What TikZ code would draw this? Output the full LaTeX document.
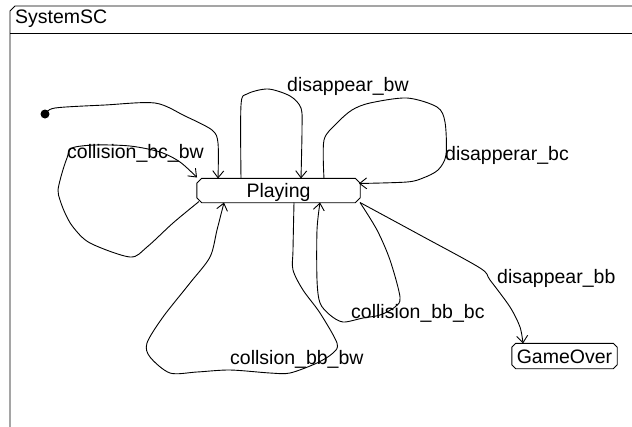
\documentclass[tikz,border=0pt]{standalone}
\usepackage{fontspec}
\setmainfont{Liberation Sans}
\usetikzlibrary{arrows.meta}
\begin{document}
\begin{tikzpicture}[x=1pt,y=-1pt,
  every node/.style={font=\fontsize{19.5}{23}\selectfont},
  state/.style={rectangle, inner sep=0pt, text height=14pt, text depth=0pt},
  trans/.style={line width=0.9pt, -{Straight Barb[length=7pt,width=11pt]}},
  lbl/.style={anchor=base west, inner sep=0pt},
  frm/.style={line width=0.9pt}]
\useasboundingbox (0,0) rectangle (632,426);
\clip (0,0) rectangle (632,426);
% frame
\draw[frm] (10,428) -- (10,11) -- (15,6) -- (645,6);
\draw[frm] (10,33) -- (645,33);
\node[lbl] (title) at (15,23) {SystemSC};
% states
\node[state, minimum width=163pt, minimum height=24pt] (play) at (278.5,190.5) {Playing};
\node[state, minimum width=105pt, minimum height=25pt] (go) at (564.5,356) {GameOver};
\draw[frm] ([xshift=5pt]play.north west) -- ([xshift=-5pt]play.north east)
  -- ([yshift=-5pt]play.north east) -- ([yshift=5pt]play.south east)
  -- ([xshift=-5pt]play.south east) -- ([xshift=5pt]play.south west)
  -- ([yshift=5pt]play.south west) -- ([yshift=-5pt]play.north west) -- cycle;
\draw[frm] ([xshift=4pt]go.north west) -- ([xshift=-4pt]go.north east)
  -- ([yshift=-4pt]go.north east) -- ([yshift=4pt]go.south east)
  -- ([xshift=-4pt]go.south east) -- ([xshift=4pt]go.south west)
  -- ([yshift=4pt]go.south west) -- ([yshift=-4pt]go.north west) -- cycle;
\node[circle, fill, inner sep=0pt, minimum size=9pt] (init) at (45,114) {};
% transitions
\draw[trans] plot[smooth, tension=0.5] coordinates {(init.center) (55,108) (105,105) (155,103) (185,116) (212,130) (218,143) ([shift={(-60.5,-12)}]play.center)};
\draw[trans] plot[smooth, tension=0.5] coordinates {([shift={(-37.5,-12)}]play.center) (241,105) (247,94) (268,89) (290,96) (301,108) (302,130) ([shift={(22.5,-12)}]play.center)};
\draw[trans] plot[smooth, tension=0.5] coordinates {([shift={(45.5,-12)}]play.center) (324,140) (337,123) (352,110) (370,103) (407,98) (437,107) (445,122) (446,155) (438,170) (423,178) (407,182) ([shift={(80.5,-7)}]play.center)};
\draw[trans] plot[smooth, tension=0.5] coordinates {([shift={(-79.5,11)}]play.center) (173,223) (147,247) (130,257) (90,243) (73,227) (65,213) (60,200) (58,190) (62,173) (67,158) (72,148) (95,145) (130,146) (160,152) (180,162) ([shift={(-81.5,-13)}]play.center)};
\draw[trans] plot[smooth, tension=0.5] coordinates {([shift={(15.5,12)}]play.center) (293,250) (293,270) (303,290) (320,313) (337,343) (333,353) (317,363) (290,373) (270,373) (230,370) (197,372) (170,373) (150,357) (147,343) (163,317) (190,283) (210,257) (217,230) ([shift={(-54.5,12)}]play.center)};
\draw[trans] plot[smooth, tension=0.5] coordinates {([shift={(81.5,12)}]play.center) (377,230) (390,260) (400,297) (395,307) (380,315) (363,318) (343,322) (330,315) (320,303) (317,280) (317,230) ([shift={(41.5,12)}]play.center)};
\draw[trans] plot[smooth, tension=0.5] coordinates {([shift={(81.5,12)}]play.center) (420,235) (480,268) (490,280) (510,307) (520,327) ([shift={(-41.5,-12.5)}]go.center)};
% labels
\node[lbl] (lbw) at (287,91) {disappear\_bw};
\node[lbl] (lbc) at (445,160) {disapperar\_bc};
\node[lbl] (lbcbw) at (67,158) {collision\_bc\_bw};
\node[lbl] (lbb) at (497,283) {disappear\_bb};
\node[lbl] (lbbbc) at (351,318) {collision\_bb\_bc};
\node[lbl] (lbbbw) at (230,364) {collsion\_bb\_bw};
\end{tikzpicture}
\end{document}
